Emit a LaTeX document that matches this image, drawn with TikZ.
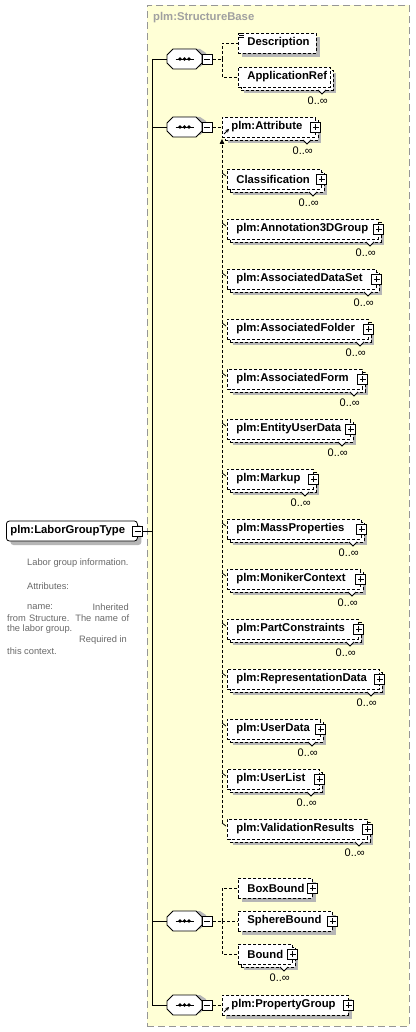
\documentclass[tikz,border=0pt]{standalone}
\usepackage{fontspec}
\setmainfont{Liberation Sans}
\usetikzlibrary{shadows,arrows.meta}
\definecolor{bgyel}{RGB}{255,255,214}
\definecolor{shadowc}{RGB}{182,182,182}
\definecolor{bgline}{RGB}{150,150,150}
\definecolor{doctext}{RGB}{105,105,105}
\definecolor{titlec}{RGB}{160,160,160}
\tikzset{
  dsh/.style={dash pattern=on 3pt off 2pt},
  conn/.style={line width=0.8pt, dsh},
  solidconn/.style={line width=0.8pt},
  sshadow/.style={drop shadow={shadow xshift=4pt, shadow yshift=-4pt, fill=shadowc, opacity=1}},
  bshadow/.style={drop shadow={shadow xshift=3pt, shadow yshift=-3pt, fill=shadowc, opacity=1}},
  lblfont/.style={font=\bfseries\fontsize{11.3}{13}\selectfont},
  elembox/.style={draw, line width=0.8pt, dsh, fill=white, minimum height=20pt, inner ysep=0pt, inner xsep=9pt, lblfont, align=left, anchor=west},
  backbox/.style={draw, line width=0.8pt, dsh, fill=white, minimum height=20pt, inner sep=0pt, anchor=west, bshadow},
  rootbox/.style={draw, line width=0.8pt, fill=white, rounded corners=3pt, minimum height=20pt, inner ysep=0pt, inner xsep=4pt, lblfont, align=left, anchor=west, sshadow},
  plusbox/.style={draw, solid, line width=0.8pt, fill=white, minimum size=10pt, inner sep=0pt,
    path picture={\draw[line width=0.8pt] ([xshift=2pt]path picture bounding box.west) -- ([xshift=-2pt]path picture bounding box.east);
      \draw[line width=0.8pt] ([yshift=-2pt]path picture bounding box.north) -- ([yshift=2pt]path picture bounding box.south);}},
  minusbox/.style={draw, solid, line width=0.8pt, fill=white, minimum size=10pt, inner sep=0pt,
    path picture={\draw[line width=0.8pt] ([xshift=2pt]path picture bounding box.west) -- ([xshift=-2pt]path picture bounding box.east);}},
  seqbox/.style={rectangle, minimum width=35pt, minimum height=20pt, inner sep=0pt},
  octline/.style={line width=0.8pt, fill=white},
  card/.style={font=\fontsize{11}{12}\selectfont, inner sep=0pt, anchor=east},
  doc/.style={font=\fontsize{9.3}{10}\selectfont, text=doctext, inner sep=0pt},
  notch/.style={line width=0.8pt, fill=white},
  bgbox/.style={draw=bgline, fill=bgyel, dash pattern=on 7pt off 4pt, line width=0.8pt, inner sep=0pt},
  title/.style={font=\bfseries\fontsize{11.3}{13}\selectfont, text=titlec, inner sep=0pt},
}
% #1 name, #2 x1, #3 x2, #4 y, #5 text, #6 multiple (1/0), #7 plus (1/0)
\newcommand\elem[7]{%
  \pgfmathsetmacro\ew{#3-#2}%
  \pgfmathsetmacro\tw{#3-#2-18}%
  \ifnum#6=1
    \node[backbox, minimum width=\ew pt] (#1-b) at (#2+3,#4+3) {};
    \filldraw[notch] (#3-12,#4+13) -- (#3-8,#4+17) -- (#3-4,#4+13);
    \node[card] (#1-c) at (#3-2,#4+24) {0..∞};
    \node[elembox, minimum width=\ew pt, text width=\tw pt] (#1) at (#2,#4) {\mbox{#5}};
  \else
    \node[elembox, sshadow, minimum width=\ew pt, text width=\tw pt] (#1) at (#2,#4) {\mbox{#5}};
  \fi
  \ifnum#7=1
    \node[plusbox] (#1-p) at (#1.east) {};
  \fi
}
% octagon compositor: #1 name, #2 y
\newcommand\seqnode[2]{%
  \fill[shadowc] (171,#2-6) -- (177,#2-10) -- (200,#2-10) -- (206,#2-6) -- (206,#2+2) -- (200,#2+8) -- (177,#2+8) -- (171,#2+2) -- cycle;
  \filldraw[octline] (167,#2-4) -- (173,#2-10) -- (196,#2-10) -- (202,#2-4) -- (202,#2+4) -- (196,#2+10) -- (173,#2+10) -- (167,#2+4) -- cycle;
  \node[seqbox] (#1) at (184.5,#2) {};
  \draw[line width=0.8pt] ([xshift=-9pt]#1.center) -- ([xshift=9pt]#1.center);
  \foreach \dx in {-4.5,0,4.5} {\fill ([xshift=\dx pt]#1.center) circle (1.9pt);}
  \node[minusbox] (#1-m) at ([xshift=5pt]#1.east) {};
}
\begin{document}
\begin{tikzpicture}[x=1pt,y=-1pt]
\useasboundingbox (0,0) rectangle (415,1032);
\fill[white] (0,0) rectangle (415,1032);
% group background
\node[bgbox, anchor=north west, minimum width=262pt, minimum height=1021pt] (sb) at (147,5) {};
\node[title, anchor=west] (sbt) at (153,18) {plm:StructureBase};

% root
\node[rootbox, minimum width=131pt, text width=123pt] (root) at (6,531) {\mbox{plm:LaborGroupType}};
\node[minusbox] (root-m) at (root.east) {};

% documentation
\node[doc, anchor=west] (d1) at (27,563) {Labor group information.};
\node[doc, anchor=west] (d2) at (27,586) {Attributes:};
\node[doc, anchor=west] (d3) at (27,607) {name:};
\node[doc, anchor=east] (d4) at (129,607) {Inherited};
\node[doc, anchor=west] (d5) at (7,618) {\makebox[122pt][s]{from Structure. The name of}};
\node[doc, anchor=west] (d6) at (7,629) {the labor group.};
\node[doc, anchor=east] (d7) at (127,640) {Required in};
\node[doc, anchor=west] (d8) at (7,651) {this context.};

% spine
\coordinate (spT) at (152,59);
\coordinate (spB) at (152,1005);
\coordinate (spR) at (152,531);
\draw[solidconn] (spT) -- (spB);
\draw[solidconn] (root-m.east) -- (spR);

% sequences
\seqnode{seq1}{59}
\seqnode{seq2}{127}
\seqnode{seq3}{921}
\seqnode{seq4}{1005}
\foreach \n/\y in {1/59,2/127,3/921,4/1005} {
  \coordinate (sp\n) at (152,\y);
  \draw[solidconn] (sp\n) -- ([xshift=0pt]seq\n.west);
}

% elements
\elem{desc}{238}{316}{43}{Description}{0}{0}
\elem{appref}{238}{330}{77}{ApplicationRef}{1}{0}
\elem{attr}{222}{315}{127}{plm:Attribute}{1}{1}
\elem{classif}{227}{321}{179}{Classification}{1}{1}
\elem{annot}{227}{378}{229}{plm:Annotation3DGroup}{1}{1}
\elem{adset}{227}{376}{279}{plm:AssociatedDataSet}{1}{1}
\elem{afolder}{227}{368}{329}{plm:AssociatedFolder}{1}{1}
\elem{aform}{227}{362}{379}{plm:AssociatedForm}{1}{1}
\elem{eud}{227}{350}{429}{plm:EntityUserData}{1}{1}
\elem{markup}{227}{313}{479}{plm:Markup}{1}{1}
\elem{massp}{227}{361}{529}{plm:MassProperties}{1}{1}
\elem{moniker}{227}{360}{579}{plm:MonikerContext}{1}{1}
\elem{partc}{227}{358}{629}{plm:PartConstraints}{1}{1}
\elem{repd}{227}{379}{679}{plm:RepresentationData}{1}{1}
\elem{userd}{227}{320}{729}{plm:UserData}{1}{1}
\elem{userl}{227}{319}{779}{plm:UserList}{1}{1}
\elem{valr}{227}{367}{829}{plm:ValidationResults}{1}{1}
\elem{boxb}{238}{312}{888}{BoxBound}{0}{1}
\elem{sphb}{238}{332}{921}{SphereBound}{0}{1}
\elem{bound}{238}{292}{954}{Bound}{1}{1}
\elem{propg}{222}{348}{1005}{plm:PropertyGroup}{0}{1}

% description icon
\foreach \k in {1,3,5} {\draw[line width=0.7pt] ([xshift=1pt,yshift=-\k pt]desc.north west) -- ++(5,0);}

% reference arrows
\foreach \m in {attr,propg} {
  \draw[line width=0.8pt, -{Stealth[length=3.5pt,width=3.5pt]}] ([xshift=2pt,yshift=-7pt]\m.west) -- ([xshift=7pt,yshift=-2pt]\m.west);
}

% sequence connectors
\coordinate (j1) at (222,59);
\draw[conn] (seq1-m.east) -- (j1);
\draw[conn] (j1) |- (desc.west);
\draw[conn] (j1) |- (appref.west);
\draw[conn] (seq2-m.east) -- (attr.west);
\coordinate (j3) at (222,921);
\draw[conn] (seq3-m.east) -- (j3);
\draw[conn] (j3) |- (boxb.west);
\draw[conn] (j3) |- (sphb.west);
\draw[conn] (j3) |- (bound.west);
\draw[conn] (seq4-m.east) -- (propg.west);

% substitution group
\coordinate (subT) at (222,139);
\coordinate (subB) at (222,823);
\draw[conn, -{Triangle[length=5pt,width=4.5pt]}] (subB) -- (subT);
\foreach \m in {classif,annot,adset,afolder,aform,eud,markup,massp,moniker,partc,repd,userd,userl,valr} {
  \draw[line width=0.8pt] ([xshift=-5pt,yshift=6pt]\m.west) -- ([xshift=-1pt,yshift=3pt]\m.west);
}
\end{tikzpicture}
\end{document}
